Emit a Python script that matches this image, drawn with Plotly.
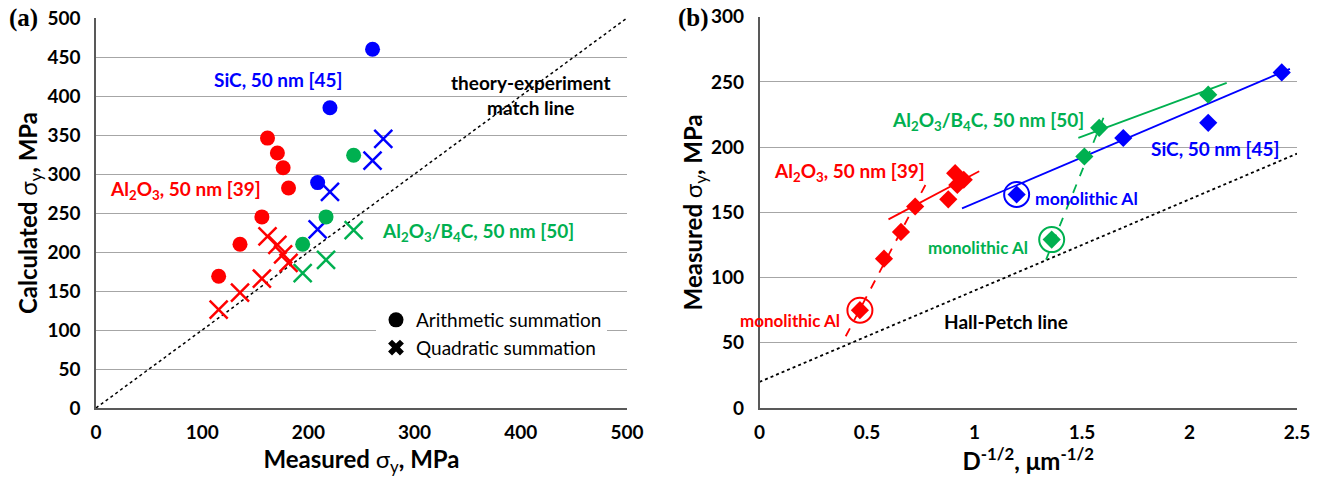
import plotly.graph_objects as go

# ---------------- Panel (a): calculated vs measured yield strength ----------------
al2o3_meas = [115.5, 135.6, 156.2, 161.5, 170.8, 176.2, 181.3]
al2o3_arith = [169, 210, 245, 346, 327, 308, 282]
al2o3_quad = [126, 148, 166, 220, 209, 197, 186]

sic_meas_arith = [208.7, 220.3, 260.4]
sic_arith = [289, 385, 460]
sic_meas_quad = [208.7, 220.3, 260.4, 270.5]
sic_quad = [229, 277, 317, 345]

b4c_meas = [194.6, 216.6, 242.6]
b4c_arith = [210, 245, 324]
b4c_quad = [173, 190, 228]

match_line_x = [0, 500]
match_line_y = [0, 500]

# ---------------- Panel (b): Hall-Petch plot ----------------
al2o3_d = [0.467, 0.579, 0.658, 0.724, 0.878, 0.91, 0.95, 0.92]
al2o3_sy = [75, 114.5, 135, 154.5, 160, 180, 175, 171]
sic_d = [1.196, 1.692, 2.087, 2.429]
sic_sy = [163.7, 207, 218.6, 257.3]
b4c_d = [1.359, 1.511, 1.580, 2.087]
b4c_sy = [129.1, 192.8, 214.8, 240.2]

# monolithic Al reference points (ringed)
mono_d = [0.467, 1.196, 1.359]
mono_sy = [75, 163.7, 129.1]

# fitted trend lines (end points)
al2o3_fit_x, al2o3_fit_y = [0.60, 1.022], [144.6, 181.5]
al2o3_steep_x, al2o3_steep_y = [0.401, 0.773], [55, 171.4]
sic_fit_x, sic_fit_y = [0.942, 2.467], [153, 260]
b4c_fit_x, b4c_fit_y = [1.483, 2.173], [207.1, 249.2]
b4c_steep_x, b4c_steep_y = [1.333, 1.610], [113.8, 226.7]
hall_petch_x, hall_petch_y = [0, 2.5], [20, 195]

RED = "#ff0000"
BLUE = "#0000ff"
GREEN = "#00b050"
FONT = "Lato"

fig = go.Figure()


def circles(x, y, color):
    fig.add_trace(go.Scatter(x=x, y=y, mode="markers", showlegend=False,
                             marker=dict(symbol="circle", size=15, color=color)))


def crosses(x, y, color):
    fig.add_trace(go.Scatter(x=x, y=y, mode="markers", showlegend=False,
                             marker=dict(symbol="x-thin", size=18,
                                         line=dict(color=color, width=2.5))))


# matching line
fig.add_trace(go.Scatter(x=match_line_x, y=match_line_y, mode="lines", showlegend=False,
                         line=dict(color="black", width=1.5, dash="dot")))

circles(al2o3_meas, al2o3_arith, RED)
crosses(al2o3_meas, al2o3_quad, RED)
circles(sic_meas_arith, sic_arith, BLUE)
crosses(sic_meas_quad, sic_quad, BLUE)
circles(b4c_meas, b4c_arith, GREEN)
crosses(b4c_meas, b4c_quad, GREEN)

# legend entries
fig.add_trace(go.Scatter(x=[None], y=[None], mode="markers", name="Arithmetic summation",
                         marker=dict(symbol="circle", size=15, color="black")))
fig.add_trace(go.Scatter(x=[None], y=[None], mode="markers", name="Quadratic summation",
                         marker=dict(symbol="x", size=14, color="black")))


def line_b(x, y, color, dash="solid", width=1.8):
    fig.add_trace(go.Scatter(x=x, y=y, mode="lines", xaxis="x2", yaxis="y2",
                             showlegend=False, line=dict(color=color, width=width, dash=dash)))


def diamonds(x, y, color):
    fig.add_trace(go.Scatter(x=x, y=y, mode="markers", xaxis="x2", yaxis="y2",
                             showlegend=False,
                             marker=dict(symbol="diamond", size=14, color=color)))


line_b(hall_petch_x, hall_petch_y, "black", dash="dot", width=1.8)
line_b(al2o3_fit_x, al2o3_fit_y, RED)
line_b(al2o3_steep_x, al2o3_steep_y, RED, dash="dash")
line_b(sic_fit_x, sic_fit_y, BLUE)
line_b(b4c_fit_x, b4c_fit_y, GREEN)
line_b(b4c_steep_x, b4c_steep_y, GREEN, dash="dash")
diamonds(al2o3_d, al2o3_sy, RED)
diamonds(sic_d, sic_sy, BLUE)
diamonds(b4c_d, b4c_sy, GREEN)

fig.add_trace(go.Scatter(x=mono_d, y=mono_sy, mode="markers", xaxis="x2", yaxis="y2",
                         showlegend=False,
                         marker=dict(symbol="circle-open", size=25, color=[RED, BLUE, GREEN],
                                     line=dict(width=2))))

W, H = 1324, 478
tick_font = dict(family=FONT, size=19, color="black", weight="bold")
title_font = dict(family=FONT, size=24, color="black")
axis_common = dict(showline=True, linecolor="#595959", linewidth=1.5, automargin=False,
                   zeroline=False, ticks="", tickfont=tick_font, fixedrange=True)

fig.update_layout(
    width=W, height=H,
    margin=dict(l=0, r=0, t=0, b=0),
    paper_bgcolor="white", plot_bgcolor="white",
    font=dict(family=FONT),
    xaxis=dict(domain=[96 / W, 627 / W], range=[0, 500], dtick=100, showgrid=False,
               ticklabelstandoff=6,
               title=dict(text="<b>Measured </b>σ<sub>y</sub><b>, MPa</b>",
                          font=title_font, standoff=10),
               **axis_common),
    yaxis=dict(domain=[1 - 408 / H, 1 - 18 / H], range=[0, 500], dtick=50,
               showgrid=True, gridcolor="#a6a6a6", gridwidth=1, ticklabelstandoff=10,
               title=dict(text="<b>Calculated </b>σ<sub>y</sub><b>, MPa</b>",
                          font=title_font, standoff=3),
               **axis_common),
    xaxis2=dict(domain=[759.5 / W, 1297 / W], range=[0, 2.5], dtick=0.5, showgrid=False,
                anchor="y2", ticklabelstandoff=6,
                title=dict(text="<b>D<sup>-1/2</sup>, μm<sup>-1/2</sup></b>",
                           font=title_font, standoff=10),
                **axis_common),
    yaxis2=dict(domain=[1 - 408 / H, 1 - 16.7 / H], range=[0, 300], dtick=50,
                anchor="x2", showgrid=True, gridcolor="#a6a6a6", gridwidth=1,
                ticklabelstandoff=10,
                title=dict(text="<b>Measured </b>σ<sub>y</sub><b>, MPa</b>",
                           font=title_font, standoff=0),
                **axis_common),
    legend=dict(x=376 / W, y=1 - 301 / H, xanchor="left", yanchor="top",
                bgcolor="white", font=dict(family=FONT, size=19, color="black"),
                itemwidth=30),
)


def label(text, x, y, color, size=19, xref="x", yref="y"):
    fig.add_annotation(text=f"<b>{text}</b>", x=x, y=y, xref=xref, yref=yref,
                       showarrow=False, font=dict(family=FONT, size=size, color=color))


label("SiC, 50 nm [45]", 171.4, 421.8, BLUE)
label("Al<sub>2</sub>O<sub>3</sub>, 50 nm [39]", 84.7, 279.5, RED)
label("Al<sub>2</sub>O<sub>3</sub>/B<sub>4</sub>C, 50 nm [50]", 359.7, 225.6, GREEN)
label("theory-experiment<br>match line", 409.6, 401, "black")

label("Al<sub>2</sub>O<sub>3</sub>/B<sub>4</sub>C, 50 nm [50]", 1.063, 220.4, GREEN, xref="x2", yref="y2")
label("Al<sub>2</sub>O<sub>3</sub>, 50 nm [39]", 0.419, 181.3, RED, xref="x2", yref="y2")
label("SiC, 50 nm [45]", 2.123, 198.9, BLUE, xref="x2", yref="y2")
label("monolithic Al", 1.519, 160.7, BLUE, size=17.5, xref="x2", yref="y2")
label("monolithic Al", 1.016, 123.2, GREEN, size=17, xref="x2", yref="y2")
label("monolithic Al", 0.142, 67.3, RED, size=17, xref="x2", yref="y2")
label("Hall-Petch line", 1.147, 66.6, "black", xref="x2", yref="y2")

# panel tags
for tag, px in (("(a)", 23), ("(b)", 693)):
    fig.add_annotation(text=f"<b>{tag}</b>", x=px / W, y=1 - 18 / H, xref="paper", yref="paper",
                       xanchor="center", yanchor="middle", showarrow=False,
                       font=dict(family="Liberation Serif", size=25, color="black"))

fig.write_html("out.html")
